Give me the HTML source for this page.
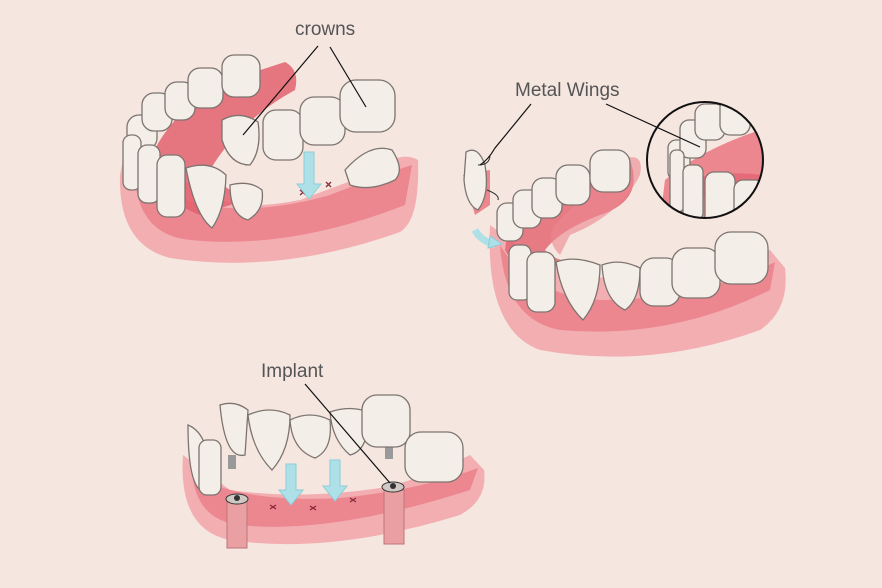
<!DOCTYPE html>
<html><head><meta charset="utf-8"><style>
html,body{margin:0;padding:0;background:#f5e6e0;}
svg{display:block}
.t{fill:#f4eee8;stroke:#7d7470;stroke-width:1.3}
.g{fill:#ec8790}
.gl{fill:#f3aeb2}
.gd{fill:#e2606d}
.ar{fill:#aee0e8;stroke:#8ccdd8;stroke-width:1}
text{font-family:"Liberation Sans",sans-serif;fill:#555;font-size:19px}
.ln{stroke:#111;stroke-width:1.2;fill:none}
</style></head><body>
<svg width="882" height="588" viewBox="0 0 882 588">
<rect width="882" height="588" fill="#f5e6e0"/>

<!-- ===== TOP LEFT ===== -->
<path class="gl" d="M120 175 Q118 245 170 258 Q280 275 400 232 Q420 220 418 160 Q400 150 380 170 L300 200 Q250 210 220 200 L125 150 Z"/>
<path class="g" d="M135 180 Q140 235 190 240 Q290 250 405 205 L412 165 Q380 175 330 195 Q260 215 200 205 Z"/>
<path class="gd" d="M150 160 Q170 110 230 80 L285 62 Q300 70 295 90 Q240 120 210 170 Q230 200 260 195 L200 215 Q160 200 150 160 Z" opacity="0.85"/>
<!-- upper back row -->
<rect class="t" x="127" y="115" width="30" height="35" rx="12"/>
<rect class="t" x="142" y="93" width="30" height="38" rx="12"/>
<rect class="t" x="165" y="82" width="30" height="38" rx="12"/>
<rect class="t" x="188" y="68" width="35" height="40" rx="12"/>
<rect class="t" x="222" y="55" width="38" height="42" rx="12"/>
<!-- lower front -->
<rect class="t" x="123" y="135" width="18" height="55" rx="8"/>
<rect class="t" x="138" y="145" width="22" height="58" rx="9"/>
<rect class="t" x="157" y="155" width="28" height="62" rx="10"/>
<path class="t" d="M186 168 Q210 160 226 175 Q225 210 212 228 Q195 215 186 168 Z"/>
<path class="t" d="M230 185 Q250 180 262 190 Q265 210 248 220 Q230 215 230 185 Z"/>
<!-- crowns bridge -->
<path class="t" d="M222 120 Q240 110 258 122 Q262 150 250 165 Q230 165 222 140 Z"/>
<rect class="t" x="263" y="110" width="40" height="50" rx="13"/>
<rect class="t" x="300" y="97" width="45" height="48" rx="14"/>
<rect class="t" x="340" y="80" width="55" height="52" rx="16"/>
<path class="t" d="M345 170 Q370 142 392 150 Q405 170 395 180 Q370 192 350 185 Z"/>
<path d="M300 190 l6 5 M306 190 l-6 5 M326 182 l5 5 M331 182 l-5 5" stroke="#8a2b3a" stroke-width="1.3"/>
<path class="ar" d="M304 152 h10 v32 h7 l-12 15 l-12 -15 h7 Z"/>
<text x="295" y="35">crowns</text>
<path class="ln" d="M318 46 L243 135 M330 47 L366 107"/>

<!-- ===== TOP RIGHT ===== -->
<path class="gl" d="M490 225 Q485 330 540 350 Q650 370 760 330 Q790 310 785 268 L770 250 Q700 270 640 280 Q560 280 510 240 Z"/>
<path class="g" d="M500 245 Q505 320 560 330 Q670 340 770 290 L775 262 Q700 300 600 300 Q530 295 500 245 Z"/>
<path class="gd" d="M505 250 Q510 200 560 180 L630 160 Q645 200 600 215 Q560 230 545 250 Q560 265 580 260 L520 275 Z" opacity="0.8"/>
<path class="g" d="M620 160 Q645 150 640 175 Q620 215 570 235 L560 255 Q545 240 555 225 Z" opacity="0.6"/>
<!-- back row -->
<rect class="t" x="497" y="203" width="26" height="38" rx="10"/>
<rect class="t" x="513" y="190" width="28" height="38" rx="10"/>
<rect class="t" x="532" y="178" width="30" height="40" rx="11"/>
<rect class="t" x="556" y="165" width="34" height="40" rx="12"/>
<rect class="t" x="590" y="150" width="40" height="42" rx="13"/>
<!-- front row -->
<rect class="t" x="509" y="245" width="22" height="55" rx="8"/>
<rect class="t" x="527" y="252" width="28" height="60" rx="10"/>
<path class="t" d="M556 262 Q575 255 600 265 Q600 300 583 320 Q562 300 556 262 Z"/>
<path class="t" d="M602 265 Q620 258 640 268 Q640 300 625 310 Q604 300 602 265 Z"/>
<rect class="t" x="640" y="258" width="40" height="48" rx="14"/>
<rect class="t" x="672" y="248" width="48" height="50" rx="15"/>
<rect class="t" x="715" y="232" width="53" height="52" rx="16"/>
<!-- loose tooth -->
<path fill="#ec8790" d="M463 175 L490 170 L490 205 L475 215 Z"/>
<path class="t" d="M466 152 Q478 145 485 165 Q490 195 478 210 Q466 205 464 180 Z"/>
<path d="M475 230 Q480 240 495 245" stroke="#aee0e8" stroke-width="7" fill="none"/>
<path class="ar" d="M490 236 l12 8 l-14 4 Z"/>
<path d="M478 165 Q490 165 490 155 M487 190 Q500 195 498 200" stroke="#333" fill="none" stroke-width="1"/>
<!-- inset circle -->
<circle cx="705" cy="160" r="58" fill="#f5e6e0"/>
<clipPath id="c"><circle cx="705" cy="160" r="58"/></clipPath>
<g clip-path="url(#c)">
<path class="g" d="M665 180 Q700 150 760 130 L770 220 L660 220 Z"/>
<path class="gd" d="M690 180 Q720 170 765 175 L765 200 Q720 190 700 200 Z" opacity="0.7"/>
<rect class="t" x="668" y="140" width="22" height="40" rx="8"/>
<rect class="t" x="680" y="120" width="26" height="38" rx="9"/>
<rect class="t" x="695" y="104" width="30" height="36" rx="10"/>
<rect class="t" x="720" y="97" width="30" height="38" rx="10"/>
<rect class="t" x="670" y="150" width="14" height="62" rx="6"/>
<rect class="t" x="683" y="165" width="20" height="55" rx="7"/>
<rect class="t" x="705" y="172" width="30" height="60" rx="9"/>
<rect class="t" x="734" y="180" width="30" height="50" rx="9"/>
</g>
<circle cx="705" cy="160" r="58" fill="none" stroke="#111" stroke-width="2"/>
<text x="515" y="96">Metal Wings</text>
<path class="ln" d="M531 104 L495 148 Q488 160 480 165 M606 104 L700 147"/>

<!-- ===== BOTTOM ===== -->
<path class="gl" d="M183 455 Q178 530 230 540 Q330 555 460 515 Q488 500 484 470 L470 455 Q420 480 380 488 Q300 500 230 490 Z"/>
<path class="g" d="M192 470 Q195 520 240 525 Q330 535 470 490 L478 468 Q420 490 340 498 Q260 502 215 485 Z"/>
<path d="M270 505 l6 4 M276 505 l-6 4 M310 506 l6 4 M316 506 l-6 4 M350 498 l6 4 M356 498 l-6 4" stroke="#8a2b3a" stroke-width="1.3"/>
<!-- implants -->
<rect x="227" y="500" width="20" height="48" fill="#eaa0a3" stroke="#b77" stroke-width="1"/>
<ellipse cx="237" cy="499" rx="11" ry="5" fill="#cfc8c4" stroke="#333"/>
<circle cx="237" cy="498" r="3" fill="#333"/>
<rect x="384" y="490" width="20" height="54" fill="#eaa0a3" stroke="#b77" stroke-width="1"/>
<ellipse cx="393" cy="487" rx="11" ry="5" fill="#cfc8c4" stroke="#333"/>
<circle cx="393" cy="486" r="3" fill="#333"/>
<rect x="228" y="455" width="8" height="14" fill="#999"/>
<rect x="385" y="445" width="8" height="14" fill="#999"/>
<!-- left teeth -->
<path class="t" d="M188 425 Q200 430 205 445 L200 490 Q188 480 188 425 Z"/>
<rect class="t" x="199" y="440" width="22" height="55" rx="8"/>
<!-- bridge -->
<path class="t" d="M220 405 Q235 400 248 410 L245 455 Q225 460 220 405 Z"/>
<path class="t" d="M248 415 Q270 405 290 415 Q290 450 272 470 Q252 450 248 415 Z"/>
<path class="t" d="M290 420 Q310 410 330 420 Q333 450 315 458 Q292 450 290 420 Z"/>
<path class="t" d="M330 412 Q350 405 368 412 Q370 450 350 455 Q332 440 330 412 Z"/>
<rect class="t" x="362" y="395" width="48" height="52" rx="15"/>
<rect class="t" x="405" y="432" width="58" height="50" rx="16"/>
<path class="ar" d="M286 464 h10 v26 h7 l-12 15 l-12 -15 h7 Z"/>
<path class="ar" d="M330 460 h10 v26 h7 l-12 15 l-12 -15 h7 Z"/>
<text x="261" y="377">Implant</text>
<path class="ln" d="M305 384 L390 483"/>
</svg>
</body></html>
